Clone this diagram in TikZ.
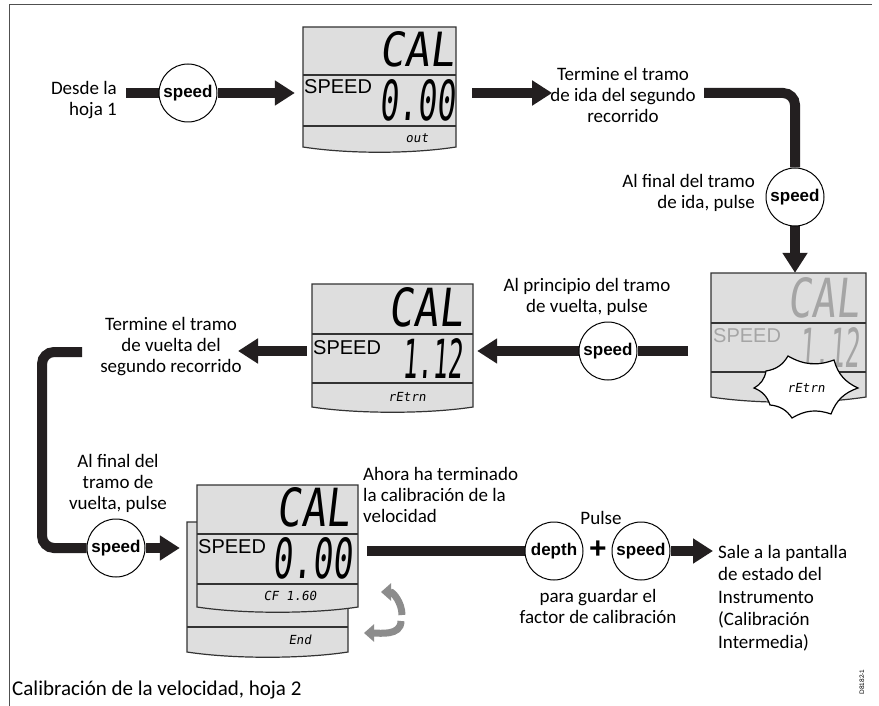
\documentclass[tikz,border=0pt]{standalone}
\usepackage{fontspec}
\setmainfont{Carlito}
\newfontfamily\btnfont{Liberation Sans}
\newfontfamily\lcdfont{DejaVu Sans Mono}[FakeSlant=0.15]
\usetikzlibrary{arrows.meta,calc,fit}
\definecolor{barc}{RGB}{35,31,32}
\definecolor{lcdbg}{RGB}{222,222,222}
\definecolor{lcdfaint}{RGB}{165,165,165}
\definecolor{framec}{RGB}{80,80,80}
\definecolor{garrowc}{RGB}{140,140,140}
\pgfdeclarelayer{back}
\pgfsetlayers{back,main}
\tikzset{
  lbl/.style={inner sep=0pt, font=\fontsize{19}{21}\selectfont, align=center},
  bar/.style={draw=barc, line width=10pt},
  bararrow/.style={bar, -{Triangle[length=20pt,width=24pt]}},
  btn/.style={circle, draw=black, line width=1pt, fill=white, minimum size=58pt, inner sep=0pt,
    font=\btnfont\bfseries\fontsize{17}{17}\selectfont},
  lcdbox/.style={draw=black!80, line width=1.2pt, fill=lcdbg},
  lcdsep/.style={draw=black!80, line width=1.2pt},
  lcdsmall/.style={inner sep=0pt, font=\lcdfont\fontsize{12.5}{12.5}\selectfont},
  spd/.style={inner sep=0pt, anchor=west, font=\btnfont\fontsize{20}{20}\selectfont},
  big/.style={inner sep=0pt, anchor=south east},
  garrow/.style={draw=garrowc, line width=7pt, -{Triangle[length=10pt,width=17pt]}},
}
\newcommand\lcdpanel[7]{%
  \draw[lcdbox] (#2,#3) -- (#4,#3) -- (#4,#5) .. controls +(-45,7) and +(45,7) .. (#2,#5) -- cycle;
  \draw[lcdsep] (#2,#6) -- (#4,#6) (#2,#7) -- (#4,#7);
  \node[fit={(#2,#3) (#4,#5)}, inner sep=0pt] (#1) {};
}
\newcommand\lcdbig[3]{\resizebox{#1pt}{#2pt}{\lcdfont #3}}
\begin{document}
\begin{tikzpicture}[x=1pt,y=-1pt]
\useasboundingbox (0,0) rectangle (879,706);
\begin{pgfonlayer}{back}
\fill[white] (0,0) rectangle (879,706);
\end{pgfonlayer}
\draw[framec, line width=1pt] (9,706) -- (9,5) -- (872,5);

% ---------- displays ----------
\lcdpanel{d1}{303}{27}{456}{147}{75}{126}
\node[big] (d1a) at (455,67) {\lcdbig{75}{35}{CAL}};
\node[big] (d1b) at (455,121) {\lcdbig{75}{41}{0.00}};
\node[spd] (d1c) at (304,87) {SPEED};
\node[lcdsmall] (d1d) at (417,138) {out};

\lcdpanel{d2}{312}{284}{473}{407}{334}{383}
\node[big] (d2a) at (463,327) {\lcdbig{74}{39}{CAL}};
\node[big] (d2b) at (463,379) {\lcdbig{60}{40}{1.12}};
\node[spd] (d2c) at (313,348) {SPEED};
\node[lcdsmall] (d2d) at (407,397) {rEtrn};

\lcdpanel{d3}{711}{273}{866}{397}{323}{372}
\node[big, text=lcdfaint] (d3a) at (860,318) {\lcdbig{72}{40}{CAL}};
\node[big, text=lcdfaint] (d3b) at (860,368) {\lcdbig{60}{40}{1.12}};
\node[spd, text=lcdfaint] (d3c) at (713,336) {SPEED};
\draw[line width=1.2pt, fill=white] (858,388) to[bend right=25] (831,414) to[bend right=25] (792,418)
  to[bend right=25] (770,405) to[bend right=25] (754,388) to[bend right=25] (766,371)
  to[bend right=25] (788,356) to[bend right=25] (834,360) to[bend right=25] (858,388) -- cycle;
\node[lcdsmall] (d3d) at (806,388) {rEtrn};

% stacked displays
\lcdpanel{d5}{187}{522}{348}{652}{627}{627}
\node[lcdsmall] (d5d) at (300,640) {End};
\lcdpanel{d4}{197}{485}{358}{607}{534}{584}
\node[big] (d4a) at (350,527) {\lcdbig{73}{39}{CAL}};
\node[big] (d4b) at (352,579) {\lcdbig{79}{41}{0.00}};
\node[spd] (d4c) at (198,547) {SPEED};
\node[lcdsmall] (d4d) at (290,596) {CF 1.60};
\draw[garrow] (402,615) to[out=90,in=0] (381,592);
\draw[garrow] (401,621) to[out=-90,in=0] (364,633);

% ---------- buttons ----------
\node[btn] (s1) at (188,93) {speed};
\node[btn] (s2) at (795,197) {speed};
\node[btn] (s3) at (608,351) {speed};
\node[btn] (s4) at (116,548) {speed};
\node[btn] (dp) at (554,551) {depth};
\node[btn] (s5) at (641,551) {speed};
\node[inner sep=0pt, font=\btnfont\bfseries\fontsize{30}{30}\selectfont] (plus) at (598,550) {+};

% ---------- labels ----------
\node[lbl, align=right, anchor=east] (desde) at (117,100) {Desde la\\hoja 1};
\node[lbl] (term1) at (623,95) {Termine el tramo\\de ida del segundo\\recorrido};
\node[lbl, align=right, anchor=east] (fin1) at (755,193) {Al final del tramo\\de ida, pulse};
\node[lbl] (prin) at (587,297) {Al principio del tramo\\de vuelta, pulse};
\node[lbl] (term2) at (171,347) {Termine el tramo\\de vuelta del\\segundo recorrido};
\node[lbl] (fin2) at (118,483) {Al final del\\tramo de\\vuelta, pulse};
\node[lbl, align=left, anchor=west] (ahora) at (363,495) {Ahora ha terminado\\la calibración de la\\velocidad};
\node[lbl] (pulse) at (601,518) {Pulse};
\node[lbl] (para) at (598,606) {para guardar el\\factor de calibración};
\node[lbl, align=left, anchor=west, font=\fontsize{19}{22.5}\selectfont] (sale) at (718,598) {Sale a la pantalla\\de estado del\\Instrumento\\(Calibración\\Intermedia)};
\node[lbl, anchor=west, font=\fontsize{21}{22}\selectfont] (cap) at (12,690) {Calibración de la velocidad, hoja 2};
\node[rotate=90, inner sep=0pt, font=\btnfont\fontsize{6.5}{7}\selectfont] (code) at (862,682) {D8182-1};

% ---------- connectors ----------
\coordinate (a1s) at (126,93);
\coordinate (a3s) at (704,93);
\coordinate (a4s) at (688,351);
\coordinate (a5e) at (238,351);
\coordinate (a6s) at (82,352);
\coordinate (a7e) at (713,551);
\begin{pgfonlayer}{back}
\draw[bar] (a1s) -- (s1);
\draw[bararrow] (s1) -- ($(d1.west |- s1)+(-8,0)$);
\draw[bararrow] ($(d1.east |- s1)+(16,0)$) -- ($(term1.west |- s1)+(2,0)$);
\draw[bar, rounded corners=12pt] (a3s) -| (s2);
\draw[bararrow] (s2) -- (s2 |- d3.north);
\draw[bar] (a4s) -- (s3);
\draw[bararrow] (s3) -- ($(d2.east |- s3)+(4,0)$);
\draw[bararrow] ($(d2.west |- s3)+(-5,0)$) -- (a5e);
\draw[bar, rounded corners=12pt] (a6s) -- ++(-40,0) |- (s4);
\draw[bararrow] (s4) -- ($(d5.west |- s4)+(-7,0)$);
\draw[bar] ($(d4.east |- dp)+(9,0)$) -- (dp);
\draw[bararrow] (s5) -- (a7e);
\end{pgfonlayer}
\end{tikzpicture}
\end{document}
